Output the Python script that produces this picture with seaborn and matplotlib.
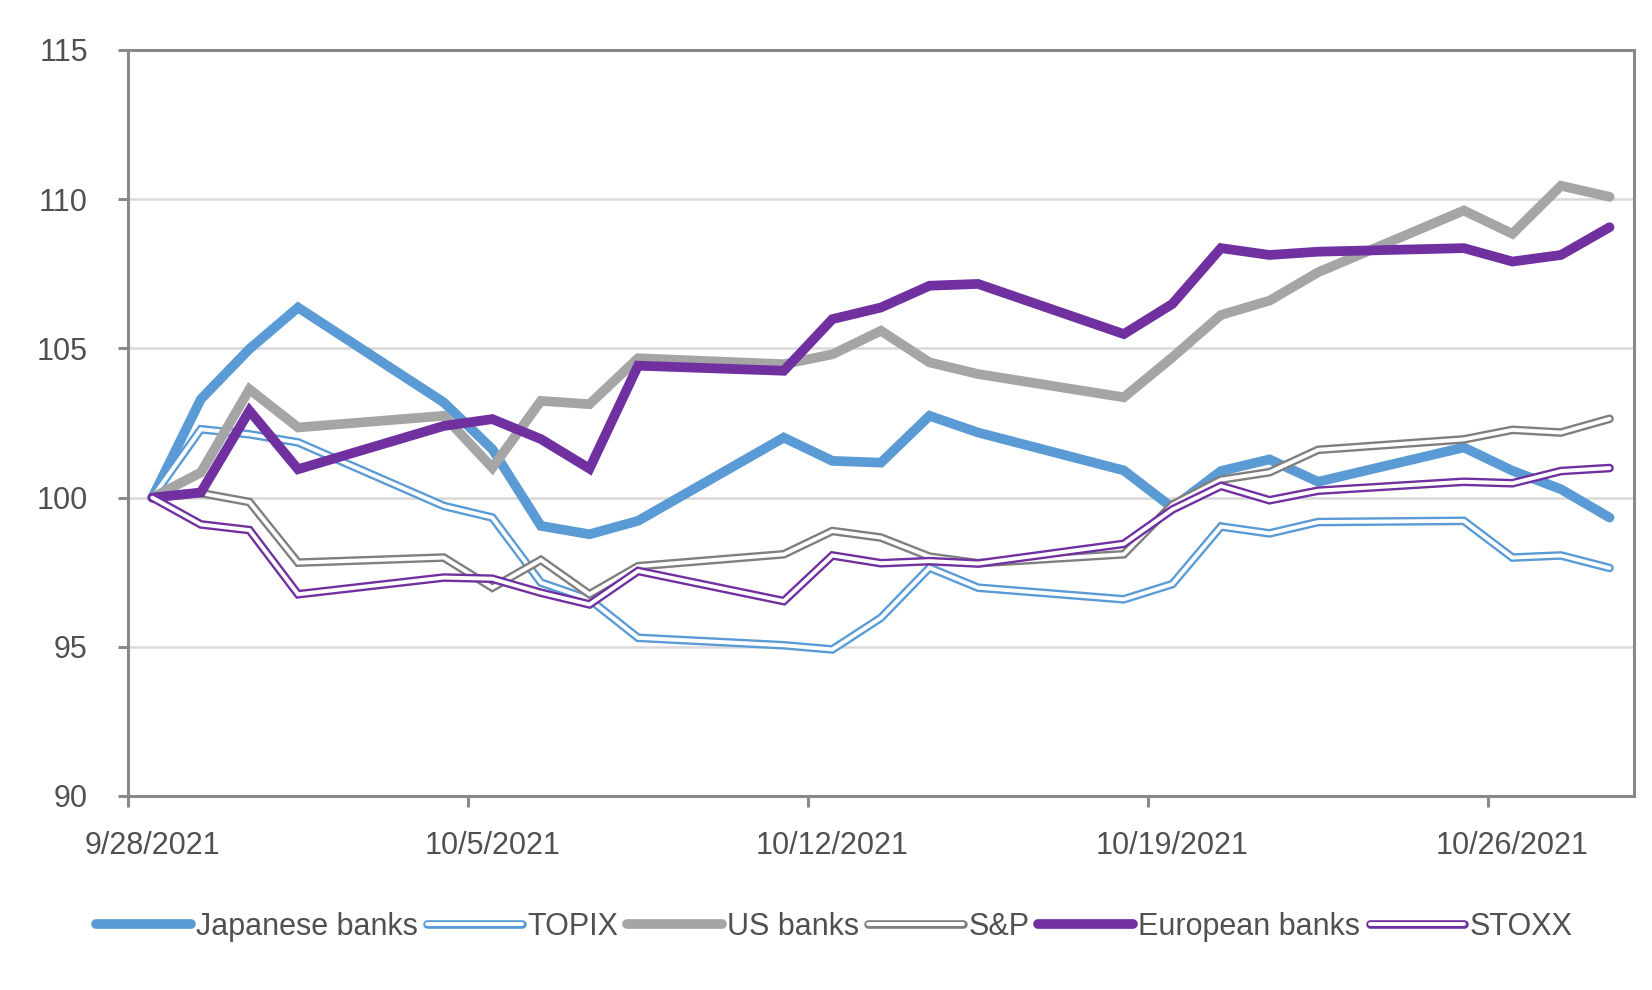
import matplotlib
matplotlib.use("Agg")
import matplotlib.pyplot as plt
import matplotlib.dates as mdates
import matplotlib.patheffects as pe
import pandas as pd
import seaborn as sns

# Trading days (weekends skipped, plotted on a date axis)
dates = ["2021-09-28", "2021-09-29", "2021-09-30", "2021-10-01", "2021-10-04",
         "2021-10-05", "2021-10-06", "2021-10-07", "2021-10-08", "2021-10-11",
         "2021-10-12", "2021-10-13", "2021-10-14", "2021-10-15", "2021-10-18",
         "2021-10-19", "2021-10-20", "2021-10-21", "2021-10-22", "2021-10-25",
         "2021-10-26", "2021-10-27", "2021-10-28"]

japanese_banks = [100, 103.3, 104.98, 106.37, 103.19, 101.62, 99.05, 98.77, 99.22, 102.01,
                  101.23, 101.17, 102.74, 102.18, 100.91, 99.66, 100.89, 101.28, 100.53,
                  101.68, 100.9, 100.28, 99.33]
topix = [100, 102.29, 102.12, 101.85, 99.72, 99.33, 97.15, 96.59, 95.3, 95.05,
         94.91, 95.97, 97.65, 96.98, 96.59, 97.1, 99.03, 98.8, 99.18,
         99.22, 97.99, 98.06, 97.64]
us_banks = [100, 100.84, 103.63, 102.35, 102.74, 101.0, 103.24, 103.13, 104.67, 104.47,
            104.8, 105.59, 104.53, 104.14, 103.36, 104.7, 106.12, 106.6, 107.55,
            109.62, 108.84, 110.45, 110.08]
sp = [100, 100.15, 99.85, 97.82, 97.99, 96.98, 97.91, 96.76, 97.7, 98.1,
      98.88, 98.66, 98.02, 97.8, 98.1, 99.76, 100.6, 100.85, 101.6,
      101.95, 102.27, 102.18, 102.64]
european_banks = [100, 100.17, 102.91, 100.95, 102.4, 102.63, 101.96, 100.97, 104.42, 104.25,
                  105.98, 106.37, 107.1, 107.16, 105.48, 106.49, 108.36, 108.13, 108.24,
                  108.36, 107.91, 108.13, 109.06]
stoxx = [100, 99.1, 98.91, 96.76, 97.32, 97.28, 96.81, 96.42, 97.54, 96.53,
         98.06, 97.8, 97.87, 97.79, 98.45, 99.6, 100.39, 99.91, 100.23,
         100.53, 100.48, 100.89, 100.99]

series_names = ["Japanese banks", "TOPIX", "US banks", "S&P", "European banks", "STOXX"]
series_values = [japanese_banks, topix, us_banks, sp, european_banks, stoxx]
series_colors = ["#5B9BD5", "#5B9BD5", "#A5A5A5", "#7F7F7F", "#7030A0", "#7030A0"]
series_double = [False, True, False, True, False, True]

label_dates = ["2021-09-28", "2021-10-05", "2021-10-12", "2021-10-19", "2021-10-26"]

sns.set_theme(style="white")
plt.rcParams['font.family'] = ['Liberation Sans', 'DejaVu Sans']

axis_grey = "#898989"
text_grey = "#505050"
fs = 22
thick_lw = 7.0
double_outer = 6.2
double_inner = 2.8

d = pd.to_datetime(dates)
fig = plt.figure(figsize=(16.52, 9.9), dpi=100)
ax = fig.add_axes([0.0775, 0.196, 0.9115, 0.7535])

for name, vals, color, double in zip(series_names, series_values, series_colors, series_double):
    df = pd.DataFrame({"date": d, "value": vals})
    sns.lineplot(data=df, x="date", y="value", ax=ax, color=color, label=name)
    line = ax.lines[-1]
    line.set_solid_joinstyle("miter")
    if double:
        line.set_linewidth(double_outer)
        line.set_path_effects([pe.Stroke(linewidth=double_outer, foreground=color),
                               pe.Stroke(linewidth=double_inner, foreground="white")])
    else:
        line.set_linewidth(thick_lw)

if ax.get_legend() is not None:
    ax.get_legend().remove()

x0 = mdates.date2num(d[0]) - 0.5
x1 = mdates.date2num(d[-1]) + 0.5
ax.set_xlim(x0, x1)
ax.set_ylim(90, 115)
ax.set_yticks(range(90, 116, 5))

# tick marks between day slots, labels centred on the day
lab = pd.to_datetime(label_dates)
ax.set_xticks([mdates.date2num(t) - 0.5 for t in lab])
ax.set_xticklabels([])
ax.set_xticks([mdates.date2num(t) for t in lab], minor=True)
ax.set_xticklabels([f"{t.month}/{t.day}/{t.year}" for t in lab], minor=True)

ax.yaxis.grid(True, color="#D9D9D9", lw=1.8)
ax.xaxis.grid(False)
ax.set_axisbelow(True)
for s in ax.spines.values():
    s.set_visible(True)
    s.set_color(axis_grey)
    s.set_linewidth(2.2)

ax.tick_params(axis="y", which="major", left=True, direction="out", length=7, width=2.2,
               color=axis_grey, pad=22, labelsize=fs, labelcolor=text_grey)
ax.tick_params(axis="x", which="major", bottom=True, direction="out", length=8, width=2.2,
               color=axis_grey)
ax.tick_params(axis="x", which="minor", bottom=True, length=0, pad=25,
               labelsize=fs, labelcolor=text_grey)
ax.set_xlabel("")
ax.set_ylabel("")

handles, labels = ax.get_legend_handles_labels()
fig.legend(handles, labels, loc="center", bbox_to_anchor=(0.505, 0.064), ncol=6,
           frameon=False, fontsize=fs, handlelength=3.1, handletextpad=0.17,
           columnspacing=0.3, labelcolor=text_grey)

fig.savefig("out.png", dpi=100)
